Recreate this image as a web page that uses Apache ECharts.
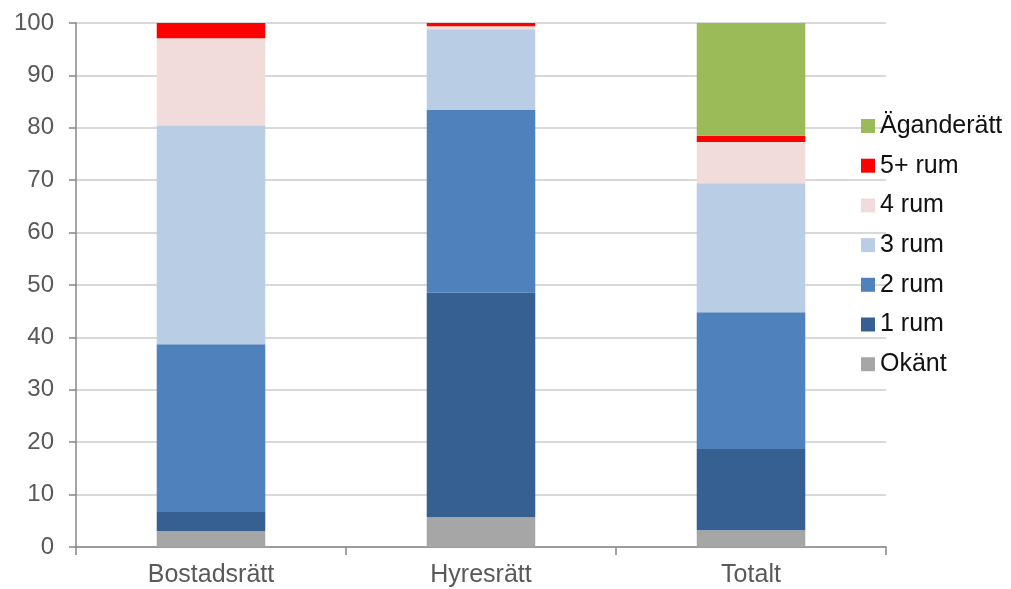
<!DOCTYPE html>
<html>
<head>
<meta charset="utf-8">
<script src="https://cdn.jsdelivr.net/npm/echarts@6/dist/echarts.min.js"></script>
<style>html,body{margin:0;padding:0;background:#fff}#c{width:1011px;height:589px}</style>
</head>
<body>
<div id="c"></div>
<script>
var categories = ['Bostadsrätt', 'Hyresrätt', 'Totalt'];
var okant = [3.0, 5.7, 3.2];
var rum1 = [3.7, 42.8, 15.5];
var rum2 = [32.0, 34.9, 26.1];
var rum3 = [41.8, 15.4, 24.6];
var rum4 = [16.6, 0.6, 7.9];
var rum5 = [2.9, 0.6, 1.2];
var agande = [0, 0, 21.5];
var yTicks = [0, 10, 20, 30, 40, 50, 60, 70, 80, 90, 100];

var names = ['Okänt', '1 rum', '2 rum', '3 rum', '4 rum', '5+ rum', 'Äganderätt'];
var values = [okant, rum1, rum2, rum3, rum4, rum5, agande];
var colors = ['#A6A6A6', '#376092', '#4F81BD', '#B9CDE5', '#F2DCDB', '#FF0000', '#9BBB59'];

var series = names.map(function (n, i) {
  return {
    name: n, type: 'bar', stack: 'a', data: values[i],
    barWidth: '40.2%',
    itemStyle: { color: colors[i] }
  };
});

var chart = echarts.init(document.getElementById('c'), null, { renderer: 'canvas' });
chart.setOption({
  animation: false,
  grid: { left: 76, right: 125, top: 23, bottom: 42, containLabel: false },
  legend: {
    orient: 'vertical', left: 856, top: 108,
    itemWidth: 14, itemHeight: 14, itemGap: 13.7,
    data: names.slice().reverse(),
    textStyle: { fontFamily: 'Liberation Sans', fontSize: 25, lineHeight: 26, color: '#111111' },
    icon: 'rect'
  },
  xAxis: {
    type: 'category', data: categories,
    axisLine: { lineStyle: { color: '#868686', width: 1.5 } },
    axisTick: { show: true, length: 8, lineStyle: { color: '#868686', width: 1.5 } },
    axisLabel: { fontFamily: 'Liberation Sans', fontSize: 25, color: '#595959', margin: 16 }
  },
  yAxis: {
    type: 'value', min: 0, max: 100, interval: 10,
    axisLine: { show: true, lineStyle: { color: '#868686', width: 1.5 } },
    axisTick: { show: true, length: 7, lineStyle: { color: '#868686', width: 1.5 } },
    splitLine: { lineStyle: { color: '#D9D9D9', width: 2 } },
    axisLabel: {
      fontFamily: 'Liberation Sans', fontSize: 24, color: '#595959', margin: 22,
      formatter: function (v) { return yTicks.indexOf(v) >= 0 ? String(v) : ''; }
    }
  },
  series: series
});
</script>
</body>
</html>
